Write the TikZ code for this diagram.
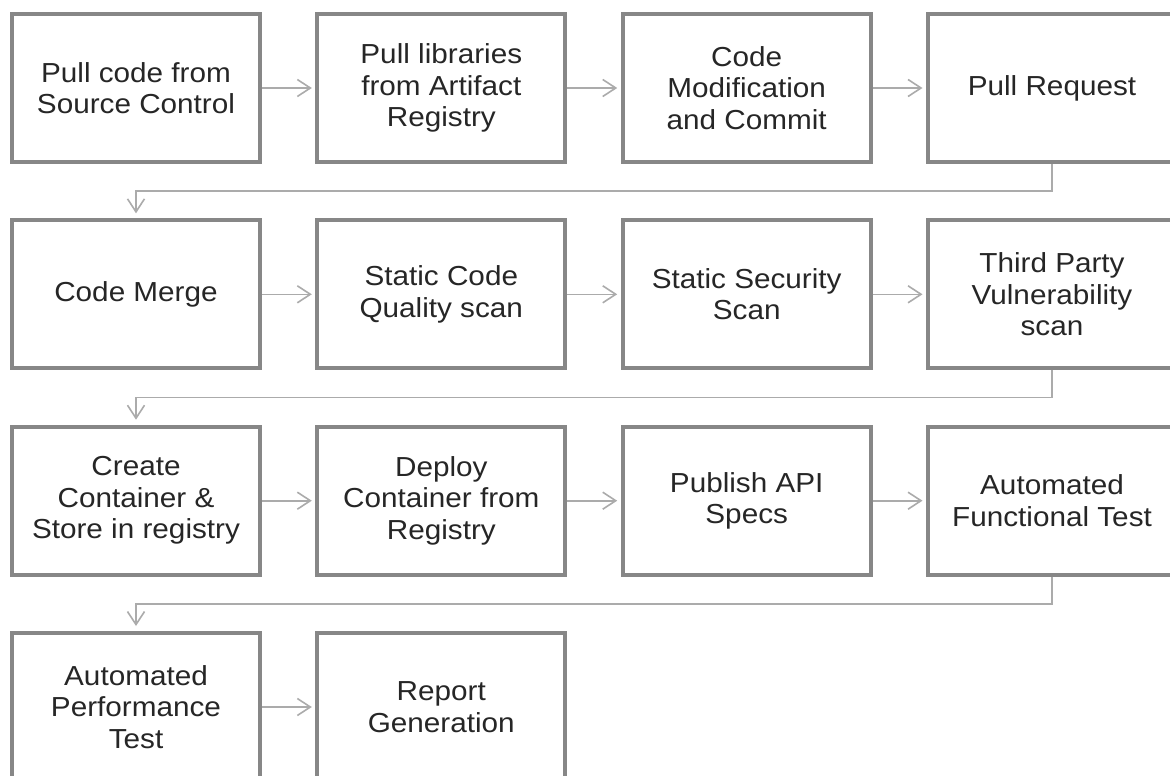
\documentclass[tikz,border=0pt]{standalone}
\usepackage{fontspec}
\setmainfont[FakeStretch=1.08]{Liberation Sans}
\usetikzlibrary{arrows.meta}

\definecolor{boxline}{HTML}{878787}
\definecolor{connline}{HTML}{ABABAB}
\definecolor{labeltext}{HTML}{262626}

\tikzset{
  stagebox/.style={draw=boxline, line width=4pt, fill=white,
    minimum width=248pt, minimum height=148pt, inner sep=0pt,
    align=center, text=labeltext,
    font=\fontsize{27.5pt}{31.5pt}\selectfont},
  conn/.style={draw=connline, line width=1.6pt,
    -{Straight Barb[length=13pt,width=17pt]}, shorten >=3.5pt},
}

\begin{document}
\begin{tikzpicture}[x=1pt,y=-1pt]
  \useasboundingbox (0,0) rectangle (1170,776);
  \clip (0,0) rectangle (1170,776);
  \fill[white] (0,0) rectangle (1170,776);

  % column and row centres
  \def\cA{136}\def\cB{441.3}\def\cC{746.7}\def\cD{1052}
  \def\rA{88}\def\rB{294.3}\def\rC{500.7}\def\rD{707}

  % row 1
  \node[stagebox] (s1)  at (\cA,\rA) {Pull code from\\Source Control};
  \node[stagebox] (s2)  at (\cB,\rA) {Pull libraries\\from Artifact\\Registry};
  \node[stagebox] (s3)  at (\cC,\rA) {Code\\Modification\\and Commit};
  \node[stagebox] (s4)  at (\cD,\rA) {Pull Request};
  % row 2
  \node[stagebox] (s5)  at (\cA,\rB) {Code Merge};
  \node[stagebox] (s6)  at (\cB,\rB) {Static Code\\Quality scan};
  \node[stagebox] (s7)  at (\cC,\rB) {Static Security\\Scan};
  \node[stagebox] (s8)  at (\cD,\rB) {Third Party\\Vulnerability\\scan};
  % row 3
  \node[stagebox] (s9)  at (\cA,\rC) {Create\\Container \&\\Store in registry};
  \node[stagebox] (s10) at (\cB,\rC) {Deploy\\Container from\\Registry};
  \node[stagebox] (s11) at (\cC,\rC) {Publish API\\Specs};
  \node[stagebox] (s12) at (\cD,\rC) {Automated\\Functional Test};
  % row 4
  \node[stagebox] (s13) at (\cA,\rD) {Automated\\Performance\\Test};
  \node[stagebox] (s14) at (\cB,\rD) {Report\\Generation};

  % connectors within rows
  \foreach \a/\b in {s1/s2, s2/s3, s3/s4, s5/s6, s6/s7, s7/s8,
                     s9/s10, s10/s11, s11/s12, s13/s14}
    \draw[conn] (\a.east) -- (\b.west);

  % connectors wrapping to the next row
  \foreach \a/\b in {s4/s5, s8/s9, s12/s13}
    \draw[conn, shorten >=5pt] (\a.south) -- ++(0,27) -| (\b.north);
\end{tikzpicture}
\end{document}
